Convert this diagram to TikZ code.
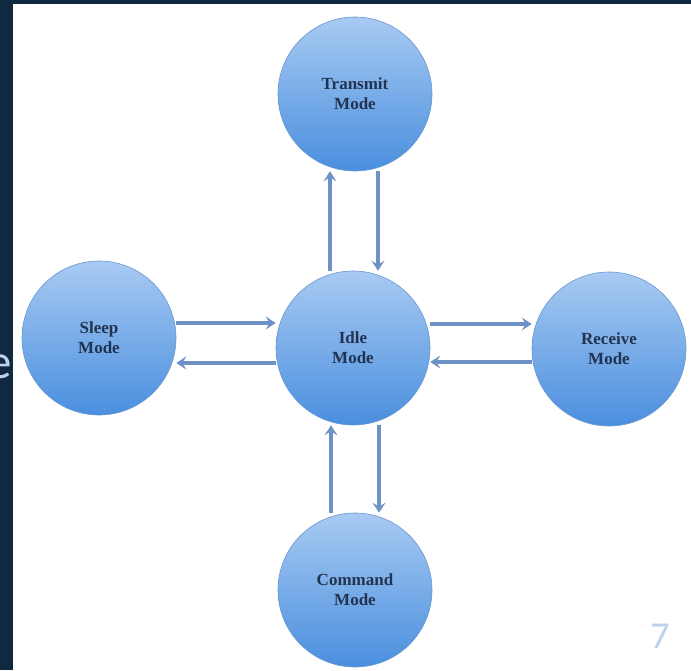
\documentclass[tikz,border=0pt]{standalone}
\usepackage{fontspec}
\setmainfont{Liberation Serif}
\newfontfamily\slidefont{Carlito}
\usetikzlibrary{arrows.meta}
\definecolor{frame}{HTML}{0F2940}
\definecolor{modetop}{HTML}{A8CAF2}
\definecolor{modebottom}{HTML}{4A8FDF}
\definecolor{modeline}{HTML}{6A96CE}
\definecolor{modetext}{HTML}{223350}
\definecolor{flowcol}{HTML}{6E92C6}
\definecolor{slidetext}{HTML}{BCD2EC}

\begin{document}
\begin{tikzpicture}[x=1pt,y=-1pt,
mode/.style={circle,minimum size=154pt,inner sep=0pt,draw=modeline,line width=0.6pt,top color=modetop,bottom color=modebottom,
 text=modetext,font=\fontsize{17}{20}\selectfont\bfseries,align=center},
flow/.style={draw=flowcol,line width=3.3pt,-{Stealth[length=10pt,width=13pt,inset=4pt]}}]
\useasboundingbox (0,0) rectangle (691,670);
\fill[white] (0,0) rectangle (691,670);
% slide frame
\fill[frame] (0,0) rectangle (13,670);
\fill[frame] (0,0) rectangle (691,4);
\begin{scope}
\clip (0,0) rectangle (691,670);
\node[anchor=base east,inner sep=0pt,text=slidetext,font=\slidefont\fontsize{49}{49}\selectfont] (title) at (12.5,378) {e};
\end{scope}
\node[anchor=base,inner sep=0pt,text=slidetext,font=\slidefont\fontsize{38}{38}\selectfont] (page) at (660,648) {7};
% modes
\node[mode] (transmit) at (355,94) {Transmit\\Mode};
\node[mode] (idle) at (353,348) {Idle\\Mode};
\node[mode] (sleep) at (99,338) {Sleep\\Mode};
\node[mode] (receive) at (609,349) {Receive\\Mode};
\node[mode] (command) at (355,590) {Command\\Mode};
\begin{scope}[flow]
 \draw ([xshift=-23pt]idle.north)--([xshift=-25pt]transmit.south);
 \draw ([xshift=23pt]transmit.south)--([xshift=25pt]idle.north);
 \draw ([yshift=15pt]sleep.east)--([yshift=25pt]idle.west);
 \draw ([yshift=-15pt]idle.west)--([yshift=-25pt]sleep.east);
 \draw ([yshift=24pt]idle.east)--([yshift=25pt]receive.west);
 \draw ([yshift=-13pt]receive.west)--([yshift=-14pt]idle.east);
 \draw ([xshift=-24pt]command.north)--([xshift=-22pt]idle.south);
 \draw ([xshift=26pt]idle.south)--([xshift=24pt]command.north);
\end{scope}
\end{tikzpicture}
\end{document}
